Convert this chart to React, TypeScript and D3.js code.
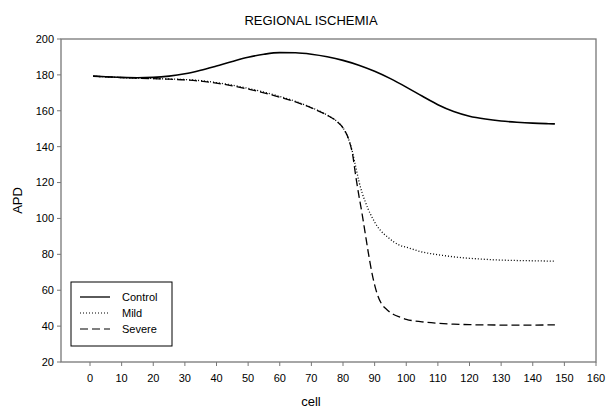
import React from 'react';
import * as d3 from 'd3';

// values
const controlCells = [1, 5, 10, 15, 20, 25, 30, 35, 40, 45, 50, 55, 60, 65, 70, 75, 80, 85, 90, 95, 100, 105, 110, 115, 120, 125, 130, 135, 140, 145, 147];
const controlApd = [179.3, 179.0, 178.6, 178.4, 178.6, 179.3, 180.6, 182.6, 185.0, 187.5, 189.8, 191.5, 192.4, 192.3, 191.5, 190.1, 188.1, 185.4, 182.0, 177.9, 173.2, 168.2, 163.4, 159.6, 157.0, 155.4, 154.3, 153.6, 153.1, 152.8, 152.7];

const mildCells = [1, 5, 10, 15, 20, 25, 30, 35, 40, 45, 50, 55, 60, 65, 70, 75, 78, 80, 82, 83, 84, 85, 86, 87, 88, 89, 90, 92, 94, 96, 98, 100, 105, 110, 115, 120, 125, 130, 140, 147];
const mildApd = [179.3, 178.9, 178.5, 178.2, 178.0, 177.7, 177.4, 176.8, 175.7, 174.3, 172.5, 170.4, 168.0, 165.2, 161.8, 157.6, 154.2, 150.5, 143, 137, 129, 121, 114.5, 109.5, 105, 101.3, 98, 93, 89.8, 87, 85, 84, 81.3, 79.8, 78.6, 77.8, 77.2, 76.8, 76.4, 76.2];

const severeCells = [1, 5, 10, 15, 20, 25, 30, 35, 40, 45, 50, 55, 60, 65, 70, 75, 78, 80, 82, 83, 84, 85, 86, 87, 88, 89, 90, 91, 92, 94, 96, 98, 100, 105, 110, 115, 120, 130, 140, 147];
const severeApd = [179.3, 178.9, 178.5, 178.2, 177.9, 177.6, 177.2, 176.5, 175.4, 173.9, 172.1, 170.0, 167.6, 164.9, 161.6, 157.5, 154.2, 150.5, 143, 136, 124, 113, 103, 92, 81, 71, 63, 57, 53, 49, 46.5, 45, 43.8, 42.4, 41.6, 41.1, 40.8, 40.6, 40.6, 40.7];

const xTicks = d3.range(0, 161, 10);
const yTicks = d3.range(20, 201, 20);

const legendItems = [
  { name: 'Control', dash: 'none' },
  { name: 'Mild', dash: '1,2' },
  { name: 'Severe', dash: '8,4' },
];

const W = 612;
const H = 414;
const FRAME = { left: 61, right: 596, top: 39, bottom: 362 };

export default function App() {
  const x = d3.scaleLinear().domain([0, 160]).range([90, 596]);
  const y = d3.scaleLinear().domain([20, 200]).range([FRAME.bottom, FRAME.top]);

  const line = d3.line<[number, number]>()
    .x(d => x(d[0]))
    .y(d => y(d[1]))
    .curve(d3.curveMonotoneX);

  const series = [
    { pts: controlCells.map((c, i) => [c, controlApd[i]] as [number, number]), dash: 'none' },
    { pts: mildCells.map((c, i) => [c, mildApd[i]] as [number, number]), dash: '1,2' },
    { pts: severeCells.map((c, i) => [c, severeApd[i]] as [number, number]), dash: '8,4' },
  ];

  const font = '"Liberation Sans", Arial, sans-serif';
  const axisColor = '#777';

  return (
    <svg width={W} height={H} style={{ position: 'absolute', left: 0, top: 0 }} fontFamily={font}>
      <rect width={W} height={H} fill="#fff" />
      <text x={311} y={25} textAnchor="middle" fontSize={13}>REGIONAL ISCHEMIA</text>

      {/* frame */}
      <rect x={FRAME.left} y={FRAME.top} width={FRAME.right - FRAME.left} height={FRAME.bottom - FRAME.top}
        fill="none" stroke={axisColor} strokeWidth={1.3} />

      {/* y axis */}
      {yTicks.map(t => (
        <g key={'y' + t}>
          <line x1={FRAME.left - 4} x2={FRAME.left} y1={y(t)} y2={y(t)} stroke={axisColor} />
          <text x={FRAME.left - 7} y={y(t)} dy="0.35em" textAnchor="end" fontSize={11}>{t}</text>
        </g>
      ))}
      <text transform={`translate(22,${(FRAME.top + FRAME.bottom) / 2}) rotate(-90)`} textAnchor="middle" fontSize={13}>APD</text>

      {/* x axis */}
      {xTicks.map(t => (
        <g key={'x' + t}>
          <line x1={x(t)} x2={x(t)} y1={FRAME.bottom} y2={FRAME.bottom + 4} stroke={axisColor} />
          <text x={x(t)} y={FRAME.bottom + 20} textAnchor="middle" fontSize={11}>{t}</text>
        </g>
      ))}
      <text x={311} y={406} textAnchor="middle" fontSize={13}>cell</text>

      {/* curves */}
      {series.map((s, i) => (
        <path key={i} d={line(s.pts) || ''} fill="none" stroke="#000"
          strokeWidth={i === 0 ? 1.6 : 1.3} strokeDasharray={s.dash} />
      ))}

      {/* legend */}
      <rect x={71} y={282} width={101} height={64} fill="#fff" stroke="#000" strokeWidth={1} />
      {legendItems.map((d, i) => (
        <g key={d.name}>
          <line x1={80} x2={110} y1={297 + i * 16} y2={297 + i * 16} stroke="#000"
            strokeWidth={i === 0 ? 1.3 : 1.1} strokeDasharray={d.dash} />
          <text x={122} y={297 + i * 16} dy="0.35em" fontSize={11}>{d.name}</text>
        </g>
      ))}
    </svg>
  );
}
